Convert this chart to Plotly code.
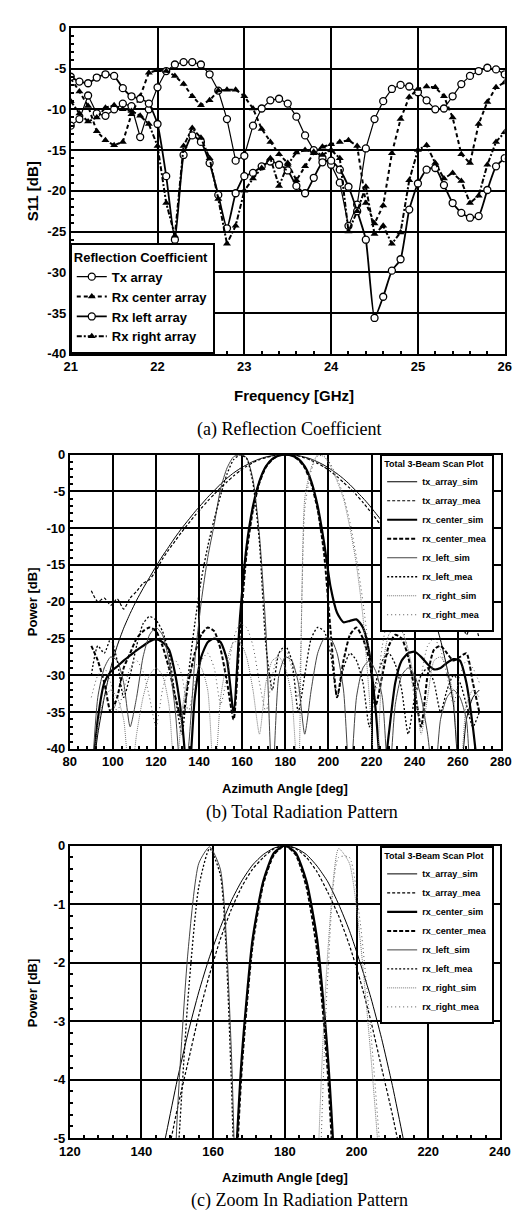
import plotly.graph_objects as go

# ---------------- (a) Reflection coefficient data ----------------
freq = [21.0, 21.1, 21.2, 21.3, 21.4, 21.5, 21.6, 21.7, 21.8, 21.9,
        22.0, 22.1, 22.2, 22.3, 22.4, 22.5, 22.6, 22.7, 22.8, 22.9,
        23.0, 23.1, 23.2, 23.3, 23.4, 23.5, 23.6, 23.7, 23.8, 23.9,
        24.0, 24.1, 24.2, 24.3, 24.4, 24.5, 24.6, 24.7, 24.8, 24.9,
        25.0, 25.1, 25.2, 25.3, 25.4, 25.5, 25.6, 25.7, 25.8, 25.9, 26.0]

s11_tx = [-12.0, -11.2, -8.3, -10.5, -10.8, -10.0, -9.3, -9.6, -13.4, -10.0,
          -7.3, -5.3, -4.5, -4.2, -4.2, -4.5, -5.7, -7.7, -11.2, -16.3,
          -15.7, -12.0, -9.9, -8.9, -8.7, -9.3, -10.9, -13.2, -15.0, -16.0,
          -16.8, -19.0, -24.3, -21.7, -14.8, -11.2, -9.0, -7.5, -7.0, -7.2,
          -7.9, -8.9, -10.0, -9.9, -8.4, -6.9, -5.9, -5.3, -4.9, -5.1, -5.7]

s11_rx_center = [-6.2, -7.8, -9.6, -12.7, -13.8, -14.4, -14.0, -10.6, -8.4, -5.5,
                 -5.2, -5.3, -5.9, -6.9, -8.4, -9.5, -8.9, -7.7, -7.6, -7.6,
                 -8.4, -9.9, -12.4, -14.0, -15.5, -16.6, -18.7, -17.0, -15.4, -14.6,
                 -14.3, -14.0, -13.8, -14.5, -21.5, -24.0, -21.8, -15.4, -11.2, -8.5,
                 -7.5, -7.2, -7.3, -8.4, -11.0, -15.5, -16.6, -11.8, -9.1, -7.3, -6.7]

s11_rx_left = [-6.0, -6.6, -6.8, -6.1, -5.7, -5.9, -7.4, -8.4, -8.7, -9.3,
               -11.8, -18.2, -26.0, -15.6, -13.2, -14.0, -16.6, -20.5, -24.6, -20.3,
               -18.2, -17.8, -17.0, -16.4, -16.8, -17.5, -19.4, -20.3, -18.4, -16.5,
               -16.3, -17.4, -19.5, -22.5, -26.0, -35.6, -33.0, -29.8, -28.4, -22.3,
               -19.1, -17.4, -17.2, -19.3, -21.5, -22.7, -23.3, -23.1, -19.9, -17.0, -16.0]

s11_rx_right = [-9.0, -10.5, -11.5, -11.0, -9.8, -9.5, -10.0, -10.2, -10.8, -11.8,
                -14.5, -21.5, -25.5, -14.5, -12.3, -13.5, -16.0, -21.0, -26.5, -24.3,
                -20.0, -18.5, -17.2, -16.0, -19.4, -16.8, -15.3, -15.0, -15.2, -15.6,
                -15.0, -16.0, -25.0, -22.5, -19.5, -25.3, -24.3, -26.5, -25.1, -18.7,
                -15.0, -14.4, -16.6, -18.5, -17.8, -18.8, -21.5, -20.6, -16.8, -14.0, -12.8]

# ---------------- (b)/(c) Radiation pattern data ----------------
angle = [90, 93, 96, 99, 102, 105, 108, 111, 114, 117,
         120, 123, 126, 129, 132, 135, 138, 141, 144, 147,
         150, 153, 156, 159, 162, 165, 168, 171, 174, 177,
         180, 183, 186, 189, 192, 195, 198, 201, 204, 207,
         210, 213, 216, 219, 222, 225, 228, 231, 234, 237,
         240, 243, 246, 249, 252, 255, 258, 261, 264, 267, 270]

tx_array_sim = [-45, -38, -33, -29, -26, -23.6, -21.6, -19.8, -18.2, -16.7,
                -15.2, -13.8, -12.5, -11.2, -10.0, -8.9, -7.8, -6.8, -5.8, -4.9,
                -4.0, -3.2, -2.5, -1.9, -1.4, -0.95, -0.6, -0.33, -0.15, -0.04,
                0.0, -0.04, -0.15, -0.35, -0.62, -1.0, -1.45, -2.0, -2.6, -3.3,
                -4.1, -5.0, -5.9, -6.9, -8.0, -9.1, -10.3, -11.6, -13.0, -14.5,
                -16.0, -17.8, -19.8, -22.2, -25.2, -29.0, -34, -45, -36, -33, -32]

tx_array_mea = [-18.5, -20.0, -19.5, -20.5, -19.6, -21.0, -19.5, -18.6, -17.5, -17.0,
                -15.8, -14.2, -12.9, -11.7, -10.5, -9.4, -8.3, -7.3, -6.3, -5.4,
                -4.5, -3.7, -2.9, -2.2, -1.6, -1.1, -0.7, -0.4, -0.2, -0.05,
                0.0, -0.05, -0.2, -0.45, -0.8, -1.2, -1.7, -2.3, -3.0, -3.8,
                -4.6, -5.5, -6.5, -7.6, -8.7, -9.9, -11.2, -12.6, -14.1, -15.7,
                -17.4, -19.2, -21.0, -20.5, -22.5, -21.0, -23.0, -22.0, -24.5, -22.5, -25.0]

rx_center_sim = [-45, -36, -31, -29.5, -28.8, -28, -27.3, -26.6, -26, -25.4,
                 -25.1, -25.5, -26.5, -30, -36, -45, -33, -27.5, -25.5, -25,
                 -25.5, -28, -35, -22, -12.5, -7.0, -3.6, -1.6, -0.6, -0.12,
                 0.0, -0.12, -0.6, -1.6, -3.6, -7.0, -12.0, -18, -21.5, -22.8,
                 -22.6, -22.4, -23.5, -27, -35, -45, -38, -31, -28, -27,
                 -26.8, -27.5, -28.5, -29.2, -29, -28.3, -27.8, -28, -31, -37, -45]

rx_center_mea = [-26, -28, -31, -35, -33, -29, -27, -25, -24, -23.5,
                 -24, -26, -29, -33, -36, -31, -27, -24.5, -23.5, -24,
                 -26.5, -31, -36, -24, -13.5, -7.5, -3.8, -1.7, -0.65, -0.15,
                 0.0, -0.15, -0.7, -1.8, -3.9, -7.5, -13.5, -24, -33, -28,
                 -24.5, -23.5, -25, -28, -34, -30, -26, -24.5, -25, -27.5,
                 -32, -37, -30, -26.5, -26, -27, -28, -27.5, -27, -31, -35]

rx_left_sim = [-45, -33, -29, -27.5, -28, -31, -37, -33, -27.5, -24.5,
               -23.5, -24.5, -28, -35, -45, -40, -28, -20, -14, -9.5,
               -4.6, -1.8, -0.3, -0.02, -0.4, -3.4, -11, -24, -45, -30,
               -27.5, -28, -31, -38, -32, -27, -25, -25, -27, -32,
               -45, -33, -29, -28, -29.5, -33, -45, -34, -30, -29,
               -30, -33, -38, -45, -36, -33, -32, -33, -36, -45, -45]

rx_left_mea = [-30, -26, -27, -25, -28, -33, -30, -26, -23, -22,
               -22.5, -24, -27, -33, -38, -30, -23, -17, -12.5, -8.8,
               -5.5, -2.6, -0.7, -0.05, -0.5, -3.9, -12, -26, -32, -27,
               -26, -28, -35, -30, -25, -23.5, -24, -27, -33, -29,
               -27, -28, -31, -37, -31, -28, -27, -28.5, -32, -38,
               -33, -30, -29, -31, -35, -32, -30, -31, -34, -37, -35]

rx_right_sim = [-45, -37, -33, -32, -33, -36, -45, -38, -33, -30,
                -29, -30, -34, -45, -35, -30, -28.5, -29, -32, -45,
                -33, -28, -25.5, -25.5, -27.5, -32, -38, -31, -28, -27.5,
                -29, -33, -45, -6.0, -1.8, -0.05, -0.3, -1.6, -3.6, -6.0,
                -10, -15, -22, -33, -45, -29, -24.5, -23.5, -24, -26.5,
                -31, -38, -33, -28, -27.5, -29, -33, -45, -34, -32, -33]

rx_right_mea = [-33, -30, -29, -31, -35, -32, -29, -28, -29.5, -33,
                -37, -32, -29, -28, -30, -35, -31, -28, -27, -29,
                -34, -30, -25, -23, -23.5, -26, -31, -35, -30, -27,
                -26.5, -29, -33, -7.5, -2.2, -0.2, -0.2, -1.3, -3.2, -5.6,
                -9.2, -14, -20, -27, -32, -26, -22, -21.5, -23, -27,
                -33, -30, -26, -25, -26.5, -30, -34, -30, -28, -29, -31]

# tick labels
ticks_a_y = [0, -5, -10, -15, -20, -25, -30, -35, -40]
ticks_a_x = [21, 22, 23, 24, 25, 26]
ticks_b_y = [0, -5, -10, -15, -20, -25, -30, -35, -40]
ticks_b_x = [80, 100, 120, 140, 160, 180, 200, 220, 240, 260, 280]
ticks_c_y = [0, -1, -2, -3, -4, -5]
ticks_c_x = [120, 140, 160, 180, 200, 220, 240]

W, H = 524, 1223
BOLD = dict(family="Liberation Sans, Arial, sans-serif", color="black", weight="bold")

fig = go.Figure()

# ---- (a) traces ----
circle_marker = dict(symbol="circle", size=7, color="white", line=dict(color="black", width=1.3))
tri_marker = dict(symbol="triangle-up", size=7, color="black", line=dict(color="black", width=0))

fig.add_trace(go.Scatter(x=freq, y=s11_tx, name="Tx array", mode="lines+markers",
                         line=dict(color="black", width=1.2), marker=circle_marker,
                         xaxis="x", yaxis="y", legend="legend"))
fig.add_trace(go.Scatter(x=freq, y=s11_rx_center, name="Rx center array", mode="lines+markers",
                         line=dict(color="black", width=2, dash="4px,3px"), marker=tri_marker,
                         xaxis="x", yaxis="y", legend="legend"))
fig.add_trace(go.Scatter(x=freq, y=s11_rx_left, name="Rx left array", mode="lines+markers",
                         line=dict(color="black", width=1.8, shape="spline", smoothing=0.5),
                         marker=circle_marker,
                         xaxis="x", yaxis="y", legend="legend"))
fig.add_trace(go.Scatter(x=freq, y=s11_rx_right, name="Rx right array", mode="lines+markers",
                         line=dict(color="black", width=2, dash="5px,2px,2px,2px"), marker=tri_marker,
                         xaxis="x", yaxis="y", legend="legend"))

# ---- (b) and (c) traces ----
pattern_series = [
    ("tx_array_sim", tx_array_sim, dict(color="black", width=1.0)),
    ("tx_array_mea", tx_array_mea, dict(color="black", width=1.2, dash="3px,2px")),
    ("rx_center_sim", rx_center_sim, dict(color="black", width=2.2)),
    ("rx_center_mea", rx_center_mea, dict(color="black", width=2.0, dash="4px,2px")),
    ("rx_left_sim", rx_left_sim, dict(color="#444444", width=1.0)),
    ("rx_left_mea", rx_left_mea, dict(color="black", width=1.3, dash="2px,2px")),
    ("rx_right_sim", rx_right_sim, dict(color="#777777", width=1.0, dash="1px,1px")),
    ("rx_right_mea", rx_right_mea, dict(color="#555555", width=1.0, dash="1px,3px")),
]
for nm, vals, ln in pattern_series:
    fig.add_trace(go.Scatter(x=angle, y=vals, name=nm, mode="lines", line=dict(shape="spline", smoothing=0.6, **ln),
                             xaxis="x2", yaxis="y2", legend="legend2"))
for nm, vals, ln in pattern_series:
    fig.add_trace(go.Scatter(x=angle, y=vals, name=nm, mode="lines", line=dict(shape="spline", smoothing=0.6, **ln),
                             xaxis="x3", yaxis="y3", legend="legend3"))


def px_x(p):
    return p / W


def px_y(p):
    return 1 - p / H


def axis_common():
    return dict(showline=True, mirror=True, linecolor="black", linewidth=2,
                showgrid=True, gridcolor="black", gridwidth=1.6,
                zeroline=False, ticks="inside", ticklen=4, tickwidth=1.5, tickcolor="black",
                tickfont=dict(size=13, **BOLD))


layout = dict(
    width=W, height=H, margin=dict(l=0, r=0, t=0, b=0),
    paper_bgcolor="white", plot_bgcolor="white", showlegend=True,
    xaxis=dict(domain=[px_x(54), px_x(507)], range=[21, 26], anchor="y",
               tickvals=ticks_a_x, ticktext=[str(v) for v in ticks_a_x],
               minor=dict(dtick=0.2, ticks="inside", ticklen=3, tickcolor="black", showgrid=False),
               **axis_common()),
    yaxis=dict(domain=[px_y(343), px_y(13)], range=[-40, 0], anchor="x",
               tickvals=ticks_a_y, ticktext=[str(v) for v in ticks_a_y],
               minor=dict(dtick=1, ticks="inside", ticklen=3, tickcolor="black", showgrid=False),
               **axis_common()),
    xaxis2=dict(domain=[px_x(53), px_x(503)], range=[80, 280], anchor="y2",
                tickvals=ticks_b_x, ticktext=[str(v) for v in ticks_b_x],
                minor=dict(dtick=4, ticks="inside", ticklen=3, tickcolor="black", showgrid=False),
                **axis_common()),
    yaxis2=dict(domain=[px_y(743), px_y(445)], range=[-40, 0], anchor="x2",
                tickvals=ticks_b_y, ticktext=[str(v) for v in ticks_b_y],
                minor=dict(dtick=1, ticks="inside", ticklen=3, tickcolor="black", showgrid=False),
                **axis_common()),
    xaxis3=dict(domain=[px_x(53), px_x(502)], range=[120, 240], anchor="y3",
                tickvals=ticks_c_x, ticktext=[str(v) for v in ticks_c_x],
                minor=dict(dtick=4, ticks="inside", ticklen=3, tickcolor="black", showgrid=False),
                **axis_common()),
    yaxis3=dict(domain=[px_y(1137), px_y(841)], range=[-5, 0], anchor="x3",
                tickvals=ticks_c_y, ticktext=[str(v) for v in ticks_c_y],
                minor=dict(dtick=0.2, ticks="inside", ticklen=3, tickcolor="black", showgrid=False),
                **axis_common()),
    legend=dict(x=px_x(53), y=px_y(343), xanchor="left", yanchor="bottom",
                bgcolor="white", bordercolor="black", borderwidth=2,
                font=dict(size=13, **BOLD), tracegroupgap=0, itemwidth=30,
                title=dict(text="Reflection Coefficient", font=dict(size=13, **BOLD))),
    legend2=dict(x=px_x(377), y=px_y(444), xanchor="left", yanchor="top",
                 bgcolor="white", bordercolor="black", borderwidth=2,
                 font=dict(size=9, **BOLD), tracegroupgap=0, itemwidth=30,
                 title=dict(text="Total 3-Beam Scan Plot", font=dict(size=9, **BOLD))),
    legend3=dict(x=px_x(377), y=px_y(841), xanchor="left", yanchor="top",
                 bgcolor="white", bordercolor="black", borderwidth=2,
                 font=dict(size=9, **BOLD), tracegroupgap=0, itemwidth=30,
                 title=dict(text="Total 3-Beam Scan Plot", font=dict(size=9, **BOLD))),
)
fig.update_layout(**layout)

# axis titles and captions
SERIF = dict(family="Liberation Serif, Times New Roman, serif", size=18, color="black")
annots = [
    dict(text="Frequency [GHz]", x=px_x(287), y=px_y(385), font=dict(size=15, **BOLD), textangle=0),
    dict(text="S11 [dB]", x=px_x(14), y=px_y(178), font=dict(size=15, **BOLD), textangle=-90),
    dict(text="(a) Reflection Coefficient", x=px_x(282), y=px_y(420), font=SERIF, textangle=0),
    dict(text="Azimuth Angle [deg]", x=px_x(278), y=px_y(783), font=dict(size=13, **BOLD), textangle=0),
    dict(text="Power [dB]", x=px_x(14), y=px_y(594), font=dict(size=13, **BOLD), textangle=-90),
    dict(text="(b) Total Radiation Pattern", x=px_x(295), y=px_y(807), font=SERIF, textangle=0),
    dict(text="Azimuth Angle [deg]", x=px_x(278), y=px_y(1177), font=dict(size=13, **BOLD), textangle=0),
    dict(text="Power [dB]", x=px_x(14), y=px_y(990), font=dict(size=13, **BOLD), textangle=-90),
    dict(text="(c) Zoom In Radiation Pattern", x=px_x(293), y=px_y(1200), font=SERIF, textangle=0),
]
for a in annots:
    fig.add_annotation(xref="paper", yref="paper", showarrow=False,
                       xanchor="center", yanchor="middle", **a)

fig.write_html("out.html")
